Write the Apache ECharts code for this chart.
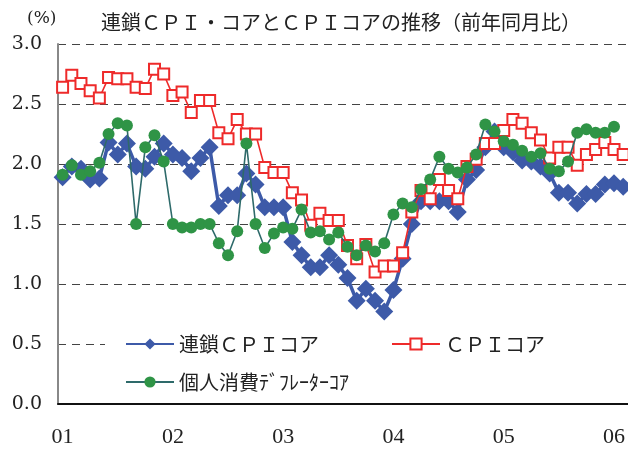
<!DOCTYPE html>
<html>
<head>
<meta charset="utf-8">
<script src="https://cdn.jsdelivr.net/npm/echarts@6/dist/echarts.min.js"></script>
<style>
    html, body { margin: 0; padding: 0; background: #fff; }
    #chart { width: 628px; height: 450px; }
</style>
</head>
<body>
<div id="chart"></div>
<script>
// 月次カテゴリ 2001年1月〜2006年2月
let months = []
for (let y = 2001; y <= 2006; y++) {
    for (let m = 1; m <= 12; m++) {
        if (months.length < 62) months.push(y + '-' + (m < 10 ? '0' + m : m))
    }
}

// 連鎖CPIコア
let chainCpi = [
    1.89, 1.98, 1.96, 1.87, 1.88, 2.18, 2.08, 2.17, 1.98, 1.96, 2.06, 2.17,
    2.08, 2.05, 1.94, 2.05, 2.14, 1.65, 1.74, 1.74, 1.92, 1.83, 1.64, 1.64,
    1.64, 1.35, 1.24, 1.14, 1.14, 1.24, 1.16, 1.05, 0.86, 0.96, 0.86, 0.77,
    0.95, 1.21, 1.50, 1.69, 1.69, 1.69, 1.69, 1.60, 1.87, 1.95, 2.14, 2.27,
    2.14, 2.10, 2.03, 2.02, 1.98, 1.92, 1.76, 1.76, 1.67, 1.75, 1.75, 1.83,
    1.84, 1.81
]
// CPIコア
let cpiCore = [
    2.64, 2.74, 2.67, 2.61, 2.55, 2.72, 2.71, 2.71, 2.64, 2.63, 2.79, 2.75,
    2.57, 2.60, 2.43, 2.53, 2.53, 2.26, 2.21, 2.37, 2.25, 2.25, 1.97, 1.93,
    1.93, 1.76, 1.70, 1.49, 1.59, 1.53, 1.53, 1.32, 1.21, 1.33, 1.10, 1.15,
    1.15, 1.26, 1.60, 1.78, 1.71, 1.87, 1.78, 1.71, 1.98, 2.04, 2.17, 2.17,
    2.28, 2.37, 2.34, 2.26, 2.20, 2.05, 2.14, 2.14, 1.99, 2.08, 2.12, 2.18,
    2.12, 2.08
]
// 個人消費デフレーターコア
let pceCore = [
    1.91, 1.99, 1.91, 1.94, 2.01, 2.25, 2.34, 2.32, 1.50, 2.14, 2.24, 2.02,
    1.50, 1.47, 1.47, 1.50, 1.50, 1.34, 1.24, 1.44, 2.17, 1.50, 1.30, 1.42,
    1.47, 1.46, 1.62, 1.43, 1.44, 1.37, 1.43, 1.31, 1.24, 1.32, 1.27, 1.34,
    1.58, 1.67, 1.64, 1.79, 1.87, 2.06, 1.96, 1.93, 1.97, 2.08, 2.33, 2.27,
    2.19, 2.16, 2.11, 2.06, 2.09, 1.96, 1.94, 2.02, 2.26, 2.29, 2.26, 2.26,
    2.31, null
]

let names = ['連鎖ＣＰＩコア', 'ＣＰＩコア', '個人消費ﾃﾞﾌﾚｰﾀｰｺｱ']
let yTicks = [0, 0.5, 1.0, 1.5, 2.0, 2.5, 3.0]

let myChart = echarts.init(document.getElementById('chart'))
let jpFont = '"Noto Sans CJK JP", sans-serif'
let option = {
    animation: false,
    backgroundColor: '#fff',
    title: [
        {
            text: '(%)',
            left: 22,
            top: 5,
            textStyle: { fontFamily: 'DejaVu Serif', fontSize: 17, fontWeight: 'normal', color: '#222' }
        },
        {
            text: '連鎖ＣＰＩ・コアとＣＰＩコアの推移（前年同月比）',
            left: 96,
            top: 7,
            textStyle: { fontFamily: jpFont, fontSize: 20, fontWeight: 'normal', color: '#222' }
        }
    ],
    legend: [
        {
            data: [names[0], names[1]],
            orient: 'horizontal',
            left: 105,
            top: 327,
            width: 440,
            padding: [7, 100, 7, 20],
            backgroundColor: '#fff',
            itemWidth: 48,
            itemHeight: 14,
            itemGap: 72,
            textStyle: { fontFamily: jpFont, fontSize: 20, color: '#222' }
        },
        {
            data: [names[2]],
            orient: 'horizontal',
            left: 125,
            top: 372,
            padding: 0,
            itemWidth: 48,
            itemHeight: 14,
            textStyle: { fontFamily: jpFont, fontSize: 20, color: '#222' }
        }
    ],
    grid: {
        left: 58,
        right: 0,
        top: 44,
        bottom: 46
    },
    xAxis: {
        type: 'category',
        boundaryGap: true,
        data: months,
        axisLine: { lineStyle: { color: '#111', width: 2 } },
        axisTick: {
            inside: true,
            length: 8,
            interval: function (i) { return i % 12 === 0 },
            lineStyle: { color: '#111', width: 2 }
        },
        axisLabel: {
            interval: function (i) { return i % 12 === 0 },
            formatter: function (v) { return v.slice(2, 4) },
            margin: 22,
            fontFamily: 'Liberation Serif',
            fontSize: 22,
            color: '#222'
        },
        splitLine: { show: false }
    },
    yAxis: {
        type: 'value',
        min: yTicks[0],
        max: yTicks[yTicks.length - 1],
        interval: 0.5,
        axisLine: { show: true, lineStyle: { color: '#888', width: 2 } },
        axisTick: { show: false },
        axisLabel: {
            formatter: function (v) { return v.toFixed(1) },
            margin: 16,
            fontFamily: 'DejaVu Serif',
            fontSize: 19,
            color: '#222'
        },
        splitLine: {
            show: true,
            lineStyle: { color: '#444', width: 1, type: [8, 6] }
        }
    },
    series: [
        {
            name: names[0],
            type: 'line',
            data: chainCpi,
            symbol: 'diamond',
            symbolSize: 18,
            showSymbol: true,
            showAllSymbol: true,
            lineStyle: { color: '#3d5aa8', width: 3.5 },
            itemStyle: { color: '#3d5aa8' },
            z: 2
        },
        {
            name: names[1],
            type: 'line',
            data: cpiCore,
            symbol: 'rect',
            symbolSize: 11,
            showSymbol: true,
            showAllSymbol: true,
            lineStyle: { color: '#ee2a2a', width: 1.6 },
            itemStyle: { color: '#fff', borderColor: '#ee2a2a', borderWidth: 2 },
            z: 3
        },
        {
            name: names[2],
            type: 'line',
            data: pceCore,
            symbol: 'circle',
            symbolSize: 12,
            showSymbol: true,
            showAllSymbol: true,
            lineStyle: { color: '#2e6a6a', width: 1.6 },
            itemStyle: { color: '#2f9446' },
            z: 4
        }
    ]
}
myChart.setOption(option)
</script>
</body>
</html>
